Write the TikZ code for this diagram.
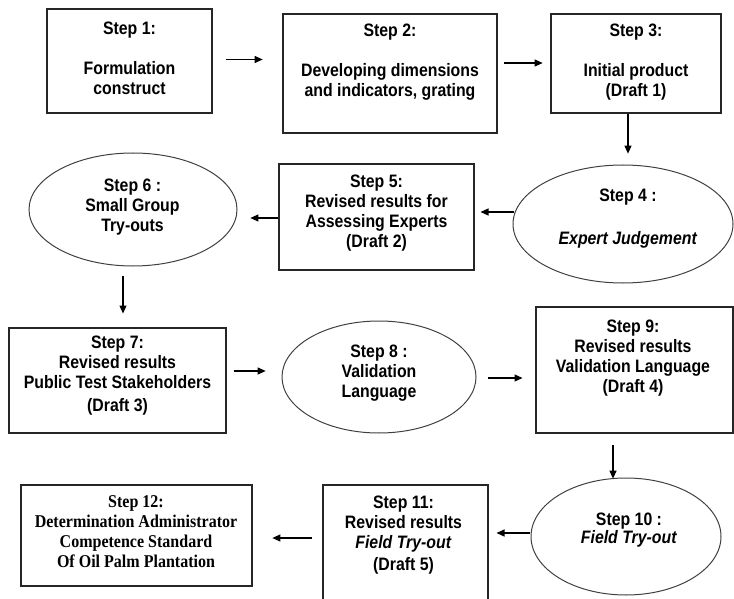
\documentclass[tikz,border=0pt]{standalone}
\usepackage{fontspec}
\setmainfont[FakeStretch=0.88]{Liberation Sans}
\newfontfamily\serifbold[FakeStretch=0.89]{Liberation Serif}
\usetikzlibrary{arrows.meta,shapes.geometric}
\tikzset{
  box/.style={draw=black!85, line width=1.3pt, rectangle, inner sep=0pt},
  oval/.style={draw=black!75, line width=1pt, ellipse, inner sep=0pt},
  txt/.style={font=\fontsize{18}{20}\selectfont\bfseries, align=center, inner sep=0pt},
  arr/.style={-{Triangle[length=8pt,width=7pt]}, line width=1.1pt, draw=black}
}
\begin{document}
\begin{tikzpicture}[x=1pt,y=-1pt]
\useasboundingbox (0,0) rectangle (734,599);
% shapes
\node[box, minimum width=165pt, minimum height=104pt] (s1) at (129.5,61) {};
\node[box, minimum width=214pt, minimum height=119pt] (s2) at (390,73.5) {};
\node[box, minimum width=170pt, minimum height=99pt] (s3) at (636,63.5) {};
\node[oval, minimum width=220pt, minimum height=118pt] (s4) at (623,224) {};
\node[box, minimum width=195pt, minimum height=106pt] (s5) at (376.5,217) {};
\node[oval, minimum width=208pt, minimum height=113pt] (s6) at (133,209.5) {};
\node[box, minimum width=217pt, minimum height=105pt] (s7) at (117.5,380.5) {};
\node[oval, minimum width=194pt, minimum height=112pt] (s8) at (379,377) {};
\node[box, minimum width=197pt, minimum height=126pt] (s9) at (634.5,370) {};
\node[oval, minimum width=190pt, minimum height=117pt] (s10) at (626,536.5) {};
\node[box, minimum width=165pt, minimum height=135pt] (s11) at (405.5,552.5) {};
\node[box, minimum width=231pt, minimum height=101pt] (s12) at (136.5,535.5) {};
% texts
\node[txt] (t1) at (129.5,58.5) {Step 1:\\[20pt]Formulation\\construct};
\node[txt] (t2) at (390,62.5) {Step 2:\\[20pt]Developing dimensions\hspace{9pt}\\and indicators, grating};
\node[txt] (t3) at (636,62.5) {Step 3:\\[20pt]Initial product\\(Draft 1)};
\node[txt] (t4) at (628,218.5) {Step 4 :\\[23pt]\textit{Expert Judgement}};
\node[txt] (t5) at (376.5,213) {Step 5:\\Revised results for\\Assessing Experts\\(Draft 2)};
\node[txt] (t6) at (132.5,207) {Step 6 :\\Small Group\\Try-outs};
\node[txt] (t7) at (117.5,376) {Step 7:\\Revised results\\Public Test Stakeholders\\[3pt](Draft 3)};
\node[txt] (t8) at (379,373.5) {Step 8 :\\Validation\\Language};
\node[txt] (t9) at (633,358) {Step 9:\\Revised results\\Validation Language\\(Draft 4)};
\node[txt] (t10) at (629,530.5) {Step 10 :\\[-2pt]\textit{Field Try-out}};
\node[txt] (t11) at (403.5,535.5) {Step 11:\\Revised results\\\textit{Field Try-out}\\[2pt](Draft 5)};
\node[txt, font=\fontsize{18}{20}\selectfont\serifbold\bfseries] (t12) at (136,532) {Step 12:\\Determination Administrator\\Competence Standard\\Of Oil Palm Plantation};
% connectors
\draw[arr] ([shift={(13,-1.5)}]s1.east) -- ++(37,0);
\draw[arr] ([shift={(6,-10.5)}]s2.east) -- ++(39,0);
\draw[arr] ([shift={(-8,0)}]s3.south) -- ++(0,40);
\draw[arr] ([shift={(1,-12)}]s4.west) -- ++(-33,0);
\draw[arr] ([shift={(0,1)}]s5.west) -- ++(-28,0);
\draw[arr] ([shift={(-10,9)}]s6.south) -- ++(0,38);
\draw[arr] ([shift={(7,-9.5)}]s7.east) -- ++(32,0);
\draw[arr] ([shift={(11,1)}]s8.east) -- ++(35,0);
\draw[arr] ([shift={(-21.5,11)}]s9.south) -- ++(0,34);
\draw[arr] ([shift={(-1,-3.5)}]s10.west) -- ++(-33,0);
\draw[arr] ([shift={(-10,-14.5)}]s11.west) -- ++(-40,0);
\end{tikzpicture}
\end{document}
